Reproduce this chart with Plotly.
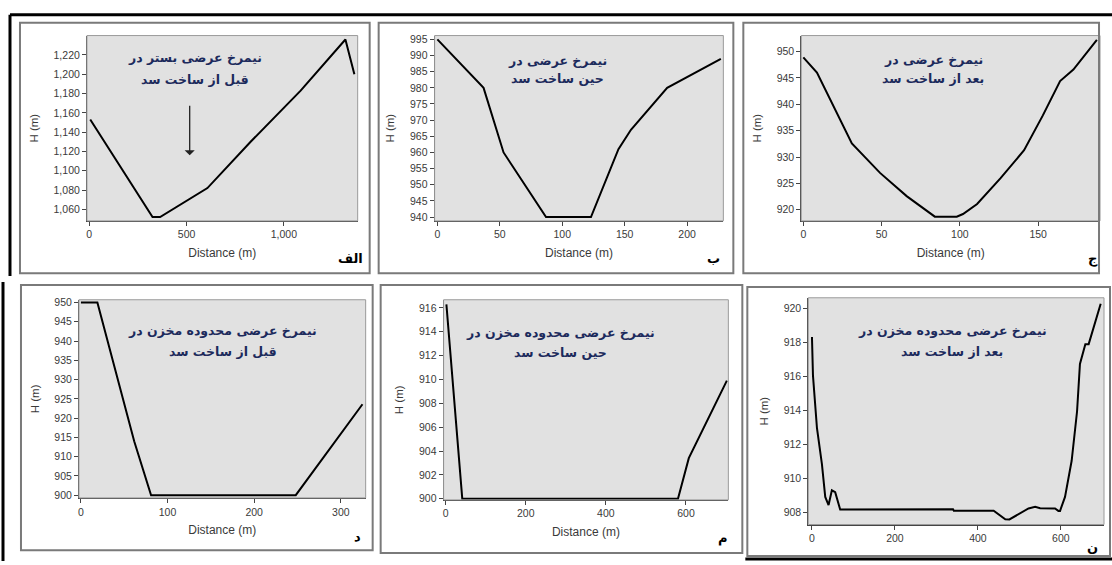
import plotly.graph_objects as go

W, H = 1112, 565

# ---------------- data ----------------
p1_dist = [5, 325, 364, 607, 829, 1086, 1316, 1362]
p1_h = [1153, 1052, 1052, 1082, 1130, 1183, 1236, 1200]

p2_dist = [0, 37, 53, 87, 123, 145, 155, 184, 227]
p2_h = [995, 980, 960, 940, 940, 961, 967, 980, 989]

p3_dist = [0, 8.7, 31, 49, 66, 84, 98, 102, 111, 126, 141, 153, 164, 172.5, 187.5]
p3_h = [948.9, 946, 932.6, 927, 922.6, 918.7, 918.7, 919.2, 921.1, 926, 931.3, 937.9, 944.4, 946.6, 952.2]

p4_dist = [0, 19, 61.5, 81, 248, 325]
p4_h = [950, 950, 914, 900, 900, 923.6]

p5_dist = [2, 41.6, 580, 607, 702]
p5_h = [916.3, 900, 900, 903.4, 909.9]

p6_dist = [0, 2.4, 12, 24, 32, 40, 48, 56, 68, 340, 342, 438, 466, 476, 522, 538, 550, 586, 594, 598,
           610, 626, 639, 646, 659, 667, 696]
p6_h = [918.3, 916.05, 912.97, 910.84, 908.92, 908.44, 909.31, 909.2, 908.18, 908.2, 908.11, 908.11,
        907.61, 907.6, 908.24, 908.34, 908.26, 908.24, 908.1, 908.1,
        908.92, 911.04, 913.93, 916.72, 917.88, 917.88, 920.25]

arrow_dist = 516
arrow_h_tail = 1169
arrow_h_tip = 1116

title_line1 = ["نیمرخ عرضی بستر در", "نیمرخ عرضی در", "نیمرخ عرضی در",
               "نیمرخ عرضی محدوده مخزن در", "نیمرخ عرضی محدوده مخزن در", "نیمرخ عرضی محدوده مخزن در"]
title_line2 = ["قبل از ساخت سد", "حین ساخت سد", "بعد از ساخت سد",
               "قبل از ساخت سد", "حین ساخت سد", "بعد از ساخت سد"]
letters = ["الف", "ب", "ج", "د", "م", "ن"]

x_ticks = [[0, 500, 1000], [0, 50, 100, 150, 200], [0, 50, 100, 150],
           [0, 100, 200, 300], [0, 200, 400, 600], [0, 200, 400, 600]]
y_ticks = [list(range(1060, 1221, 20)), list(range(940, 996, 5)), list(range(920, 951, 5)),
           list(range(900, 951, 5)), list(range(900, 917, 2)), list(range(908, 921, 2))]

series = [(p1_dist, p1_h), (p2_dist, p2_h), (p3_dist, p3_h),
          (p4_dist, p4_h), (p5_dist, p5_h), (p6_dist, p6_h)]

# ---------------- layout geometry (pixels) ----------------
plot_px = [  # x0, x1, y_top, y_bottom
    (86, 357, 32, 220),
    (434, 723, 32, 220),
    (801, 1100, 32, 220),
    (78, 365, 300, 501),
    (443, 728, 300, 503),
    (808, 1104, 298, 528),
]
x_ranges = [(-12, 1379), (-2.2, 229), (-1.3, 189.5), (-2.3, 328.7), (-5, 705.7), (-8.9, 704)]
y_ranges = [(1048, 1240.1), (938.8, 996.2), (917.9, 953.04), (899.3, 950.7), (899.9, 916.69), (907.3, 920.6)]
show_xtitle = [True, True, True, True, True, False]

title_pos = [(194, 54, 77), (557, 57, 76), (933, 56, 76), (222, 331, 352), (560, 333, 354), (952, 331, 352)]
letter_pos = [(350, 258), (713, 258), (1093, 259), (357, 540), (723, 542), (1092, 551)]
frames = [(19, 369, 19, 273), (378, 733, 19, 273), (743, 1099, 19, 273),
          (20, 372, 285, 554), (380, 742, 285, 557), (747, 1110, 287, 560)]


def px(x):
    return x / W


def py(y):
    return 1 - y / H


fig = go.Figure()
layout = dict(
    width=W, height=H, autosize=False,
    margin=dict(l=0, r=0, t=0, b=0),
    paper_bgcolor="white", plot_bgcolor="#e1e1e1",
    showlegend=False,
    font=dict(family="Liberation Sans, Arial", size=10, color="#3a3a3a"),
)
shapes = []
annotations = []

for i in range(6):
    n = i + 1
    sx = "" if n == 1 else str(n)
    x0, x1, yt, yb = plot_px[i]
    xs, ys = series[i]
    fig.add_trace(go.Scatter(x=xs, y=ys, mode="lines",
                             line=dict(color="black", width=2),
                             xaxis="x" + sx, yaxis="y" + sx, hoverinfo="x+y"))
    layout["xaxis" + sx] = dict(
        domain=[px(x0), px(x1)], range=list(x_ranges[i]), anchor="y" + sx,
        tickvals=x_ticks[i], tickformat=",", showgrid=False, zeroline=False,
        showline=True, linecolor="#444", linewidth=1, ticks="outside", ticklen=4,
        tickcolor="#444", tickfont=dict(size=10.5, color="#3a3a3a"),
        title=dict(text="Distance (m)" if show_xtitle[i] else "",
                   font=dict(size=12, color="#3a3a3a"), standoff=9),
    )
    layout["yaxis" + sx] = dict(
        domain=[py(yb), py(yt)], range=list(y_ranges[i]), anchor="x" + sx,
        tickvals=y_ticks[i], tickformat=",", showgrid=False, zeroline=False,
        showline=True, linecolor="#444", linewidth=1, ticks="outside", ticklen=4,
        tickcolor="#444", tickfont=dict(size=10.5, color="#3a3a3a"),
        title=dict(text="H (m)", font=dict(size=11.5, color="#3a3a3a"), standoff=12),
    )
    # plot area border
    shapes.append(dict(type="rect", xref="x" + sx + " domain", yref="y" + sx + " domain",
                       x0=0, x1=1, y0=0, y1=1, line=dict(color="#9a9a9a", width=1)))
    # panel frame
    fx0, fx1, fy0, fy1 = frames[i]
    shapes.append(dict(type="rect", xref="paper", yref="paper",
                       x0=px(fx0), x1=px(fx1), y0=py(fy1), y1=py(fy0),
                       line=dict(color="#7a7a7a", width=2)))
    tx, ty1, ty2 = title_pos[i]
    for txt, ty in ((title_line1[i], ty1), (title_line2[i], ty2)):
        annotations.append(dict(xref="paper", yref="paper", x=px(tx), y=py(ty),
                                xanchor="center", yanchor="middle", showarrow=False,
                                text="<b>" + txt + "</b>",
                                font=dict(family="DejaVu Sans", size=12.5, color="#1c2a5c")))
    lx, ly = letter_pos[i]
    annotations.append(dict(xref="paper", yref="paper", x=px(lx), y=py(ly),
                            xanchor="center", yanchor="middle", showarrow=False,
                            text="<b>" + letters[i] + "</b>",
                            font=dict(family="DejaVu Sans", size=13, color="black")))

# arrow in first panel
annotations.append(dict(xref="x", yref="y", axref="x", ayref="y",
                        x=arrow_dist, y=arrow_h_tip, ax=arrow_dist, ay=arrow_h_tail,
                        showarrow=True, arrowhead=1, arrowsize=1.3, arrowwidth=1.3,
                        arrowcolor="#222", text=""))

# outer black borders
shapes.append(dict(type="line", xref="paper", yref="paper", x0=px(9), x1=px(1112),
                   y0=py(11), y1=py(11), line=dict(color="black", width=3)))
shapes.append(dict(type="line", xref="paper", yref="paper", x0=px(9), x1=px(9),
                   y0=py(11), y1=py(276), line=dict(color="black", width=3)))
shapes.append(dict(type="line", xref="paper", yref="paper", x0=px(2), x1=px(2),
                   y0=py(282), y1=py(565), line=dict(color="black", width=3)))
shapes.append(dict(type="line", xref="paper", yref="paper", x0=px(745), x1=px(1112),
                   y0=py(563), y1=py(563), line=dict(color="black", width=3)))

layout["shapes"] = shapes
layout["annotations"] = annotations
fig.update_layout(**layout)
fig.write_html("out.html", config={"displayModeBar": False},
               post_script="document.body.style.margin='0';document.body.style.overflow='hidden';")
